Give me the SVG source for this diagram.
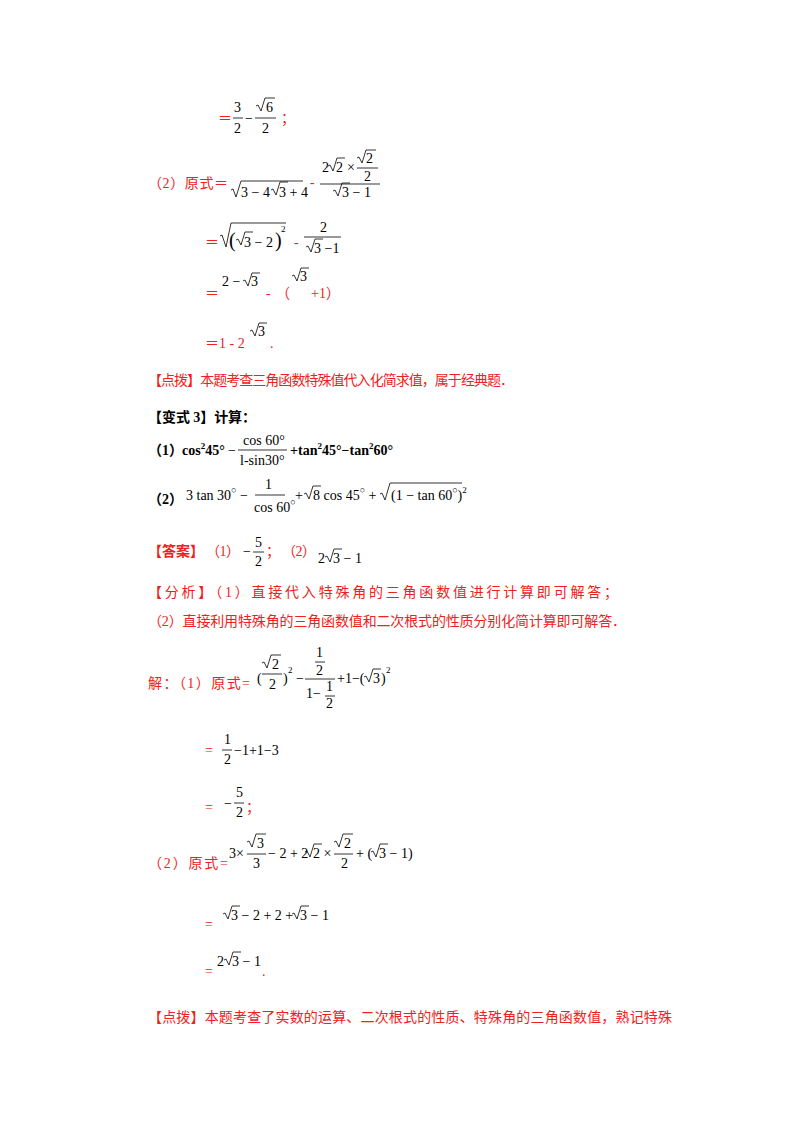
<svg xmlns="http://www.w3.org/2000/svg" width="800" height="1132" viewBox="0 0 800 1132">
<style>
text{font-family:"Liberation Serif","Noto Sans CJK SC",serif;font-size:14px;fill:#000}
.r{fill:#f02020}
.b{font-weight:bold}
.s{font-size:9px}
line,path{stroke:#000;stroke-width:0.8;fill:none}
</style>
<rect width="800" height="1132" fill="#fff"/>
<g id="step1">
<text x="218" y="123" class="r">＝</text>
<text x="234" y="112">3</text><line x1="233" y1="118" x2="243" y2="118"/><text x="234" y="133">2</text>
<text x="245" y="123">−</text>
<path d="M256,106 l2,-1 l3,6 l4,-13 h10"/><text x="266" y="112">6</text>
<line x1="255" y1="118" x2="276" y2="118"/><text x="262" y="133">2</text>
<text x="281" y="123" class="r">；</text>
</g>
<g id="step2">
<text x="148" y="188" class="r" textLength="80" lengthAdjust="spacing">（2）原式＝</text>
<path d="M231,190 l2,-1 l3,8 l5,-16 h62"/>
<text x="241" y="197">3 − 4</text>
<path d="M271,190 l2,-1 l3,6 l4,-13 h8"/><text x="279" y="197">3 + 4</text>
<text x="310" y="187" class="r">-</text>
<text x="322" y="172">2</text><path d="M328,166 l2,-1 l3,6 l4,-13 h8"/><text x="336" y="172">2</text>
<text x="347" y="172">×</text>
<path d="M357,158 l2,-1 l3,6 l4,-13 h10"/><text x="366" y="163">2</text>
<line x1="357" y1="168" x2="378" y2="168"/><text x="364" y="181">2</text>
<line x1="320" y1="184" x2="380" y2="184"/>
<path d="M333,191 l2,-1 l3,6 l4,-13 h8"/><text x="342" y="197">3 − 1</text>
</g>
<g id="step3">
<text x="205" y="247" class="r">＝</text>
<path d="M220,236 l2,-1 l4,12 l5,-24 h55"/>
<text x="229" y="247" style="font-size:20px">(</text>
<path d="M236,240 l2,-1 l3,6 l4,-13 h8"/><text x="244" y="247">3 − 2</text>
<text x="275" y="247" style="font-size:20px">)</text><text x="281" y="232" class="s">2</text>
<text x="294" y="247" class="r">-</text>
<text x="320" y="232">2</text><line x1="304" y1="237" x2="341" y2="237"/>
<path d="M306,247 l2,-1 l3,6 l4,-13 h8"/><text x="314" y="253">3 −1</text>
</g>
<g id="step4">
<text x="205" y="298" class="r">＝</text>
<text x="222" y="286">2 −</text>
<path d="M243,281 l2,-1 l3,6 l4,-13 h8"/><text x="251" y="286">3</text>
<text x="266" y="298" class="r">-</text>
<text x="276" y="298" class="r">（</text>
<path d="M292,276 l2,-1 l3,6 l4,-13 h8"/><text x="300" y="281">3</text>
<text x="311" y="298" class="r">+1）</text>
</g>
<g id="step5">
<text x="205" y="348" class="r">＝1 - 2</text>
<path d="M250,331 l2,-1 l3,6 l4,-13 h8"/><text x="258" y="336">3</text>
<text x="270" y="348" class="r">.</text>
</g>
<text x="148" y="385" class="r" textLength="366" lengthAdjust="spacing">【点拨】本题考查三角函数特殊值代入化简求值，属于经典题．</text>
<text x="148" y="422" class="b" textLength="108" lengthAdjust="spacing">【变式 3】计算：</text>
<g id="q1">
<text x="148" y="455" class="b">（1）<tspan x="182">cos</tspan><tspan class="s" dy="-6">2</tspan><tspan dy="6">45°</tspan></text>
<text x="228" y="455">−</text>
<text x="243" y="445">cos 60°</text><line x1="238" y1="450" x2="287" y2="450"/><text x="240" y="465">l-sin30°</text>
<text x="290" y="455" class="b">+tan<tspan class="s" dy="-6">2</tspan><tspan dy="6">45°−tan</tspan><tspan class="s" dy="-6">2</tspan><tspan dy="6">60°</tspan></text>
</g>
<g id="q2">
<text x="148" y="504" class="b">（2）</text>
<text x="186" y="500">3 tan 30<tspan class="s" dy="-7">○</tspan><tspan dy="7"> −</tspan></text>
<text x="265" y="489">1</text><line x1="255" y1="495" x2="285" y2="495"/><text x="254" y="512">cos 60<tspan class="s" dy="-7">○</tspan></text>
<text x="295" y="500">+</text>
<path d="M304,494 l2,-1 l3,6 l4,-13 h8"/><text x="313" y="500">8 cos 45<tspan class="s" dy="-7">○</tspan><tspan dy="7"> +</tspan></text>
<path d="M380,494 l2,-1 l3,7 l5,-17 h72"/><text x="391" y="500">(1 − tan 60<tspan class="s" dy="-7">○</tspan><tspan dy="7">)</tspan><tspan class="s" dy="-7">2</tspan></text>
</g>
<g id="answer">
<text x="148" y="556" class="r b" textLength="56" lengthAdjust="spacing">【答案】</text>
<text x="206" y="556" class="r" textLength="34" lengthAdjust="spacing">（1）</text>
<text x="243" y="556">−</text>
<text x="255" y="547">5</text><line x1="253" y1="552" x2="264" y2="552"/><text x="255" y="566">2</text>
<text x="266" y="556" class="r">；</text>
<text x="282" y="556" class="r" textLength="34" lengthAdjust="spacing">（2）</text>
<text x="318" y="563">2</text><path d="M325,557 l2,-1 l3,6 l4,-13 h8"/><text x="333" y="563">3 − 1</text>
</g>
<text x="148" y="597" class="r" textLength="470" lengthAdjust="spacing">【分析】（1）直接代入特殊角的三角函数值进行计算即可解答；</text>
<text x="148" y="626" class="r" textLength="478" lengthAdjust="spacing">（2）直接利用特殊角的三角函数值和二次根式的性质分别化简计算即可解答．</text>
<g id="sol1">
<text x="148" y="688" class="r" textLength="102" lengthAdjust="spacing">解：（1）原式=</text>
<text x="257" y="683">(</text>
<path d="M262,663 l2,-1 l3,6 l4,-13 h10"/><text x="272" y="669">2</text>
<line x1="262" y1="674" x2="282" y2="674"/><text x="269" y="689">2</text>
<text x="283" y="683">)</text><text x="288" y="673" class="s">2</text>
<text x="296" y="683">−</text>
<text x="316" y="657">1</text><line x1="315" y1="662" x2="325" y2="662"/><text x="316" y="675">2</text>
<line x1="305" y1="679" x2="335" y2="679"/>
<text x="306" y="698">1−</text><text x="326" y="691">1</text><line x1="325" y1="696" x2="335" y2="696"/><text x="326" y="708">2</text>
<text x="337" y="683">+1−(</text>
<path d="M364,677 l2,-1 l3,6 l4,-13 h8"/><text x="373" y="683">3</text><text x="381" y="683">)</text><text x="386" y="673" class="s">2</text>
</g>
<g id="sol1b">
<text x="205" y="755" class="r">=</text>
<text x="224" y="744">1</text><line x1="222" y1="750" x2="232" y2="750"/><text x="224" y="764">2</text>
<text x="234" y="755">−1+1−3</text>
<text x="205" y="812" class="r">=</text>
<text x="224" y="808">−</text>
<text x="236" y="797">5</text><line x1="234" y1="803" x2="244" y2="803"/><text x="236" y="817">2</text>
<text x="246" y="812" class="r">；</text>
</g>
<g id="sol2">
<text x="148" y="868" class="r" textLength="80" lengthAdjust="spacing">（2）原式=</text>
<text x="229" y="858">3×</text>
<path d="M247,842 l2,-1 l3,6 l4,-13 h10"/><text x="257" y="848">3</text>
<line x1="247" y1="854" x2="266" y2="854"/><text x="253" y="868">3</text>
<text x="268" y="858">− 2 + 2</text>
<path d="M305,852 l2,-1 l3,6 l4,-13 h8"/><text x="313" y="858">2 ×</text>
<path d="M334,842 l2,-1 l3,6 l4,-13 h10"/><text x="344" y="848">2</text>
<line x1="334" y1="854" x2="353" y2="854"/><text x="341" y="868">2</text>
<text x="356" y="858">+ (</text>
<path d="M371,852 l2,-1 l3,6 l4,-13 h8"/><text x="379" y="858">3 − 1)</text>
</g>
<g id="sol2b">
<text x="205" y="929" class="r">=</text>
<path d="M223,914 l2,-1 l3,6 l4,-13 h8"/><text x="231" y="920">3 − 2 + 2 +</text>
<path d="M292,914 l2,-1 l3,6 l4,-13 h8"/><text x="300" y="920">3 − 1</text>
<text x="205" y="976" class="r">=</text>
<text x="217" y="966">2</text><path d="M224,960 l2,-1 l3,6 l4,-13 h8"/><text x="232" y="966">3 − 1</text>
<text x="262" y="976" class="r">.</text>
</g>
<text x="148" y="1022" class="r" textLength="524" lengthAdjust="spacing">【点拨】本题考查了实数的运算、二次根式的性质、特殊角的三角函数值，熟记特殊</text>
</svg>
